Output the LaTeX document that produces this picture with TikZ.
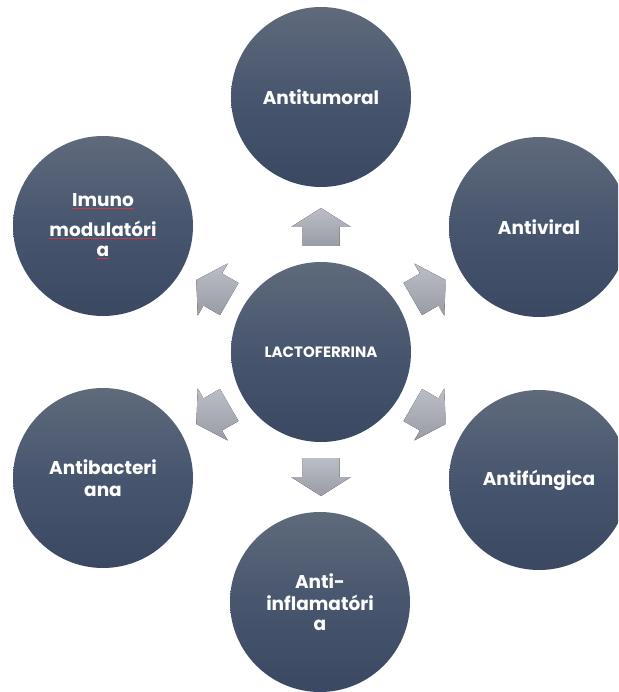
\documentclass[tikz,border=0pt]{standalone}
\usepackage{fontspec}
\setmainfont{Poppins}
\usetikzlibrary{calc}
\definecolor{ctop}{HTML}{5F6A7B}
\definecolor{cmid}{HTML}{47556E}
\definecolor{cbot}{HTML}{3A4862}
\definecolor{atop}{HTML}{BBBEC6}
\definecolor{abot}{HTML}{9A9CA5}
\definecolor{spell}{HTML}{C0404A}
\tikzset{
  bub/.style={circle, minimum size=180pt, inner sep=0pt,
    top color=ctop, bottom color=cbot, middle color=cmid,
    text=white, font=\bfseries\fontsize{18.5}{22}\selectfont, align=center},
  blockarrow/.style={top color=atop, bottom color=abot, draw=none}
}
\newcommand{\blockarr}[1]{%
  \fill[blockarrow]
    ($(C)+(#1:106)+(#1+90:18.5)$) -- ($(C)+(#1:125)+(#1+90:18.5)$) --
    ($(C)+(#1:125)+(#1+90:30)$) -- ($(C)+(#1:144)$) --
    ($(C)+(#1:125)+(#1-90:30)$) -- ($(C)+(#1:125)+(#1-90:18.5)$) --
    ($(C)+(#1:106)+(#1-90:18.5)$) -- cycle;}
\newcommand{\spellul}[1]{{\color{spell}\underline{\color{white}#1}}}
\begin{document}
\begin{tikzpicture}[x=1pt,y=-1pt]
  \useasboundingbox (0,0) rectangle (618,692);
  \clip (0,0) rectangle (618,692);
  \node[bub, font=\bfseries\fontsize{15}{18}\selectfont] (C) at (321,352) {LACTOFERRINA};
  \node[bub] (tum) at (321,97) {Antitumoral};
  \node[bub] (vir) at (539,227) {Antiviral};
  \node[bub] (fun) at (539,480) {Antifúngica};
  \node[bub] (inf) at (320,602) {Anti-\\inflamatóri\\[-2pt]a};
  \node[bub] (bac) at (103,478) {Antibacteri\\ana};
  \node[bub] (imu) at (103,226) {\spellul{Imuno}\\[8pt]\spellul{modulatóri}\\[-2pt]\spellul{a}};
  \blockarr{90}
  \blockarr{30}
  \blockarr{-30}
  \blockarr{-90}
  \blockarr{210}
  \blockarr{150}
\end{tikzpicture}
\end{document}
